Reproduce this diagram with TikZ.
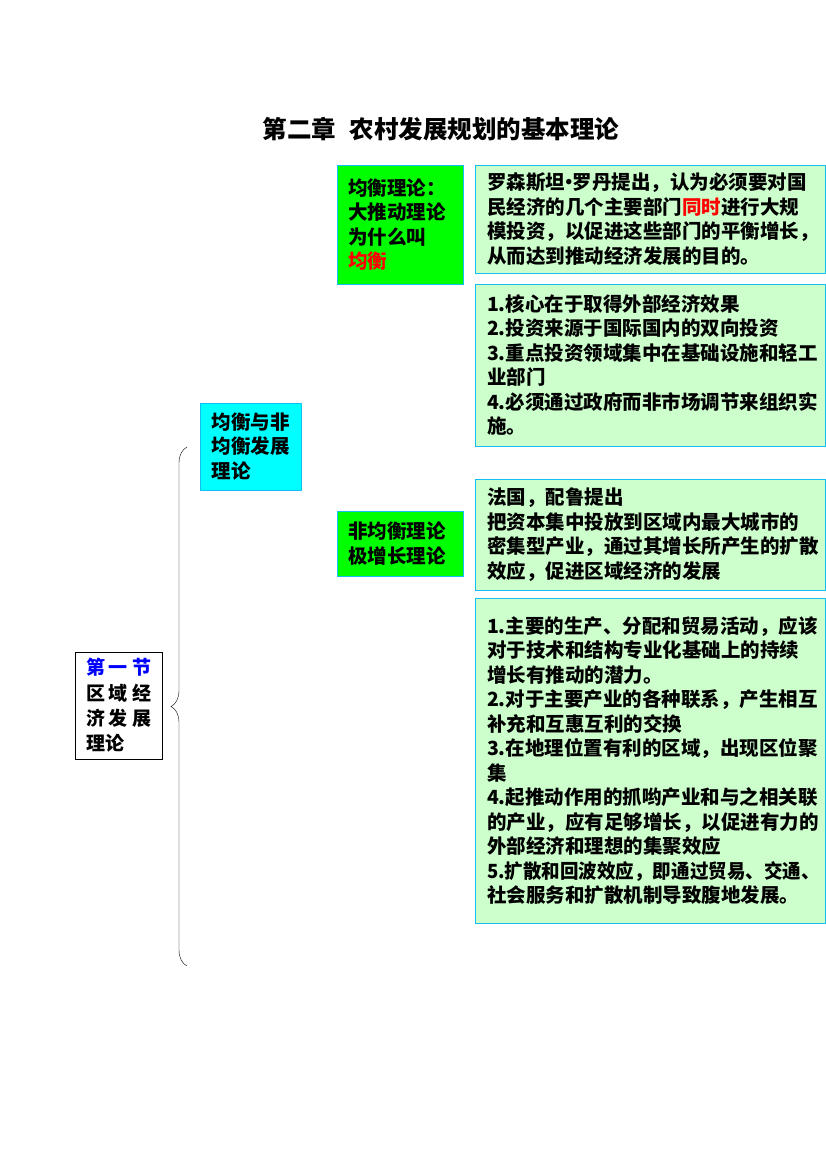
\documentclass[tikz,border=0pt]{standalone}
\usepackage{fontspec}
\setmainfont{Noto Sans CJK SC}
\usepackage{tikz}
\usetikzlibrary{decorations.pathreplacing}
\definecolor{edgeblue}{RGB}{20,190,240}
\definecolor{palegreen}{RGB}{204,255,204}
\definecolor{puregreen}{RGB}{0,255,0}
\definecolor{purecyan}{RGB}{0,255,255}

\begin{document}
\begin{tikzpicture}[x=1pt,y=-1pt,
	txt/.style={font=\bfseries\fontsize{19.5}{24.5}\selectfont, align=left, inner ysep=0pt},
	notebox/.style={txt, draw=edgeblue, fill=palegreen, inner xsep=12pt, text width=326pt, minimum width=350pt},
	greenbox/.style={txt, draw=edgeblue, fill=puregreen, inner xsep=11pt, text width=104pt, minimum width=126pt},
	cyanbox/.style={txt, draw=edgeblue, fill=purecyan, inner xsep=11.5pt, text width=78pt, minimum width=101pt},
	secbox/.style={txt, draw=black, fill=white, inner xsep=11pt, text width=65pt, minimum width=87pt}]
	\useasboundingbox[fill=white] (0,0) rectangle (826,1169);
	% title
	\node[font=\bfseries\fontsize{24.5}{28}\selectfont] (title) at (441,129) {第二章\hspace{14pt}农村发展规划的基本理论};
	% balanced theory
	\node[greenbox, minimum height=119pt] (eq) at (400,224.5) {均衡理论：\\大推动理论\\为什么叫\\\textcolor{red}{均衡}};
	\node[notebox, minimum height=108pt] (rosen) at (650,219) {罗森斯坦\kern-6pt•\kern-6pt罗丹提出，认为必须要对国\\民经济的几个主要部门\textcolor{red}{同时}进行大规\\模投资，以促进这些部门的平衡增长，\\从而达到推动经济发展的目的。};
	\node[notebox, minimum height=162pt] (eqlist) at (650,365) {1.核心在于取得外部经济效果\\2.投资来源于国际国内的双向投资\\3.重点投资领域集中在基础设施和轻工\\业部门\\4.必须通过政府而非市场调节来组织实\\施。};
	\node[cyanbox, minimum height=87pt] (balance) at (250.5,446.5) {均衡与非\\均衡发展\\理论};
	% unbalanced theory
	\node[greenbox, minimum height=65pt] (noneq) at (400,543.5) {非均衡理论\\极增长理论};
	\node[notebox, minimum height=111pt] (perroux) at (650,534.5) {法国，配鲁提出\\把资本集中投放到区域内最大城市的\\密集型产业，通过其增长所产生的扩散\\效应，促进区域经济的发展};
	\node[notebox, minimum height=325pt] (nelist) at (650,760.5) {1.主要的生产、分配和贸易活动，应该\\对于技术和结构专业化基础上的持续\\增长有推动的潜力。\\2.对于主要产业的各种联系，产生相互\\补充和互惠互利的交换\\3.在地理位置有利的区域，出现区位聚\\集\\4.起推动作用的抓哟产业和与之相关联\\的产业，应有足够增长，以促进有力的\\外部经济和理想的集聚效应\\\scalebox{0.95}[1]{5.扩散和回波效应，即通过贸易、交通、}\\社会服务和扩散机制导致腹地发展。};
	% section
	\node[secbox, minimum height=107pt, font=\bfseries\fontsize{19}{25.3}\selectfont] (sec) at (118.5,705.5) {{\color{blue}第\hfill 一\hfill 节}\\区\hfill 域\hfill 经\\济\hfill 发\hfill 展\\理论};
	\coordinate (btop) at (187,447);
	\coordinate (bbot) at (187,966);
	\draw[decorate, decoration={brace, amplitude=16pt}] (bbot) -- (btop);
\end{tikzpicture}
\end{document}
